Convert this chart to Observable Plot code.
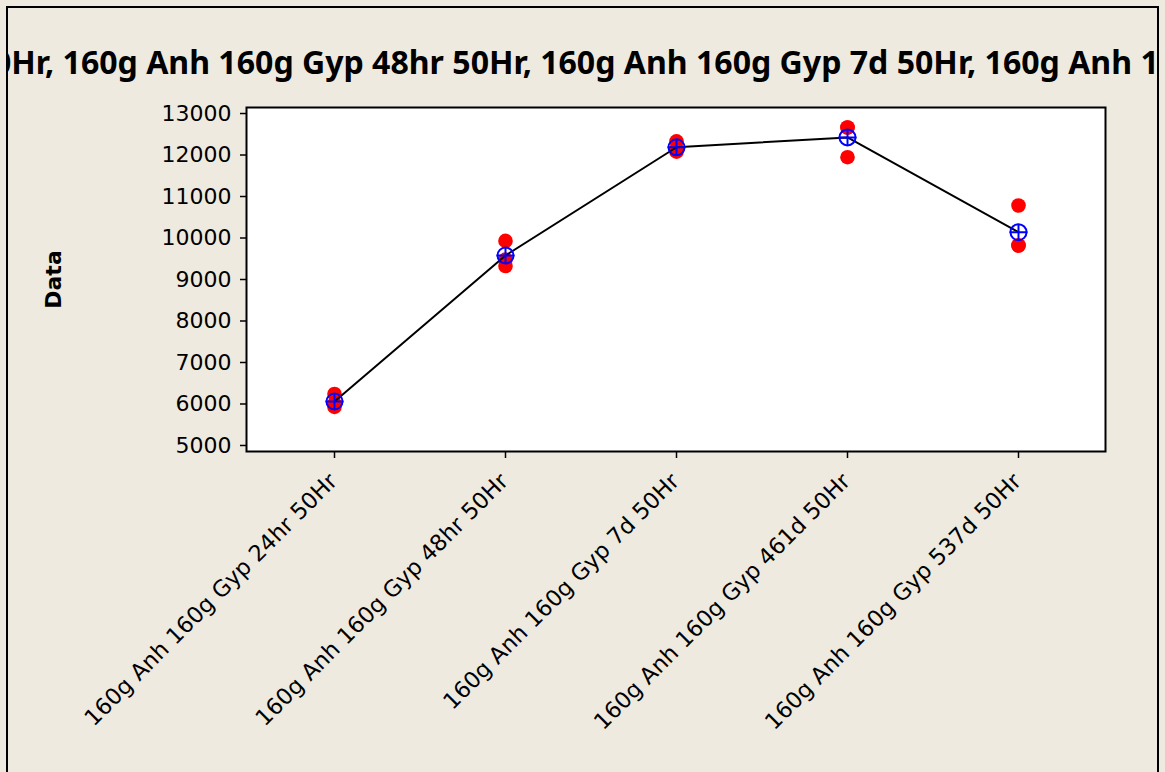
<!DOCTYPE html>
<html><head><meta charset="utf-8">
<script src="https://cdn.jsdelivr.net/npm/d3@7"></script>
<script src="https://cdn.jsdelivr.net/npm/@observablehq/plot@0.6"></script>
<style>
html,body{margin:0;padding:0;width:1165px;height:772px;overflow:hidden;background:#EEEAE0;}
#frame{position:absolute;left:6px;top:6px;width:1153px;height:800px;box-sizing:border-box;border:2px solid #000;border-bottom:none;overflow:hidden;background:#EEEAE0;}
#title{position:relative;height:87px;overflow:visible;}
.ttl{position:absolute;white-space:nowrap;font-family:"Noto Sans";font-weight:bold;color:#000;line-height:1;}
#chart svg{display:block;}
</style></head>
<body>
<div id="frame"><div id="title"><span id="titleText" class="ttl"></span></div><div id="chart"></div></div>
<script>
// ---- data ----
const titleText = "Individual Value Plot of 160g Anh 160g Gyp 24hr 50Hr, 160g Anh 160g Gyp 48hr 50Hr, 160g Anh 160g Gyp 7d 50Hr, 160g Anh 160g Gyp 461d 50Hr, 160g Anh 160g Gyp 537d 50Hr";
const yLabel = "Data";
const categories = [
  "160g Anh 160g Gyp 24hr 50Hr",
  "160g Anh 160g Gyp 48hr 50Hr",
  "160g Anh 160g Gyp 7d 50Hr",
  "160g Anh 160g Gyp 461d 50Hr",
  "160g Anh 160g Gyp 537d 50Hr"
];
const gyp24hr = [6240, 6010, 5930];
const gyp48hr = [9930, 9480, 9325];
const gyp7d   = [12330, 12150, 12080];
const gyp461d = [12663, 12663, 11947];
const gyp537d = [10783, 9819, 9819];
const yTicks = [5000, 6000, 7000, 8000, 9000, 10000, 11000, 12000, 13000];

const groups = [gyp24hr, gyp48hr, gyp7d, gyp461d, gyp537d];
const obs = groups.flatMap((vals, i) => vals.map(v => ({group: categories[i], value: v})));
const means = groups.map((vals, i) => ({group: categories[i], value: d3.mean(vals)}));

// ---- title layout (measured in the DOM) ----
const span = document.getElementById("titleText");
const idx = titleText.indexOf("0Hr, 160g Anh 160g Gyp 48hr");
const endIdx = titleText.indexOf("Anh 160g Gyp 461d") + 5;
function measure(str, size) {
  const s = document.createElement("span");
  s.className = "ttl";
  s.style.fontSize = size + "px";
  s.style.visibility = "hidden";
  s.textContent = str;
  document.body.appendChild(s);
  const w = s.getBoundingClientRect().width;
  s.remove();
  return w;
}
const wVis = measure(titleText.slice(idx, endIdx), 100);
const F = 100 * 1166 / wVis;
const P = measure(titleText.slice(0, idx), F);
span.textContent = titleText;
span.style.fontSize = F + "px";
span.style.left = (-7 - 8 - P) + "px";
span.style.top = (64 - 1.07 * F * 0.76) + "px";

// ---- crosshair symbol ----
const crossSymbol = {
  draw(context, size) {
    const r = Math.sqrt(size / Math.PI);
    context.moveTo(-r - 1, 0); context.lineTo(r + 1, 0);
    context.moveTo(0, -r); context.lineTo(0, r);
  }
};

const chart = Plot.plot({
  width: 1149,
  height: 677,
  marginTop: 12,
  marginLeft: 238,
  marginRight: 52,
  marginBottom: 321,
  style: {background: "transparent", fontFamily: '"DejaVu Sans", sans-serif', fontSize: "22px", color: "#000"},
  x: {type: "point", domain: categories, padding: 0.5},
  y: {domain: [4855, 13145]},
  marks: [
    Plot.frame({fill: "white", stroke: null}),
    Plot.dot(obs, {x: "group", y: "value", r: 7.3, fill: "#FF0000", stroke: null}),
    Plot.line(means, {x: "group", y: "value", stroke: "#000", strokeWidth: 2}),
    Plot.dot(means, {x: "group", y: "value", r: 8, stroke: "#0000FF", strokeWidth: 2, fill: "none"}),
    Plot.dot(means, {x: "group", y: "value", r: 8, symbol: crossSymbol, stroke: "#0000FF", strokeWidth: 2, fill: "none"}),
    Plot.axisY({ticks: yTicks, tickSize: 6, tickPadding: 9, tickFormat: d => String(d), label: null, fontSize: 22, stroke: "#000", strokeWidth: 1.5}),
    Plot.axisX({tickSize: 7, tickFormat: () => "", label: null, stroke: "#000", strokeWidth: 1.5}),
    Plot.text(categories, {x: d => d, frameAnchor: "bottom", rotate: -45, textAnchor: "end", lineAnchor: "middle", dx: -1, dy: 26, fontSize: 22.5, fill: "#000"}),
    Plot.text([yLabel], {frameAnchor: "left", dx: -193, rotate: -90, textAnchor: "middle", lineAnchor: "middle", fontSize: 22, fontWeight: "bold", fill: "#000"}),
    Plot.frame({stroke: "#000", strokeWidth: 2})
  ]
});
document.getElementById("chart").appendChild(chart);
</script>
</body></html>
